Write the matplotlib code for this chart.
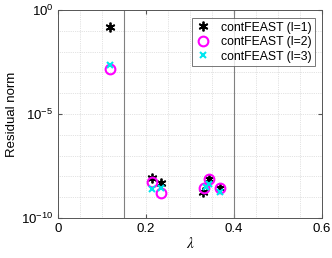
import matplotlib
matplotlib.use("Agg")
import matplotlib.pyplot as plt
import numpy as np
from matplotlib.ticker import FixedLocator, NullFormatter

plt.rcParams.update({
    "font.family": ["Liberation Sans", "DejaVu Sans"],
    "mathtext.fontset": "stix",
})

# eigenvalue estimates and residual norms (log10) for each l
lam_l1 = [0.118, 0.214, 0.234, 0.330, 0.342, 0.368]
res_l1 = [-0.83, -8.06, -8.30, -8.73, -8.13, -8.54]
lam_l2 = [0.118, 0.214, 0.234, 0.332, 0.342, 0.368]
res_l2 = [-2.84, -8.25, -8.78, -8.57, -8.13, -8.54]
lam_l3 = [0.118, 0.214, 0.234, 0.337, 0.343, 0.368]
res_l3 = [-2.62, -8.60, -8.56, -8.52, -8.38, -8.75]

# interval boundaries
bounds = [0.15, 0.4]

fig = plt.figure(figsize=(3.32, 2.58), dpi=100)
ax = fig.add_axes([0.175, 0.155, 0.795, 0.806])

for b in bounds:
    ax.axvline(b, color="#808080", lw=0.8, zorder=1)

ax.plot(lam_l1, 10.0 ** np.array(res_l1), ls="none", marker=(6, 2, 0), ms=7,
        mec="black", mew=1.3, color="black", label="contFEAST (l=1)", zorder=3)
ax.plot(lam_l2, 10.0 ** np.array(res_l2), ls="none", marker="o", ms=7,
        mfc="none", mec="#ff00ff", mew=1.5, label="contFEAST (l=2)", zorder=4)
ax.plot(lam_l3, 10.0 ** np.array(res_l3), ls="none", marker="x", ms=5,
        mec="#00e5ee", mew=1.5, label="contFEAST (l=3)", zorder=5)

ax.set_yscale("log")
ax.set_xlim(0, 0.6)
ax.set_ylim(1e-10, 1e0)
ax.set_xticks([0, 0.2, 0.4, 0.6])
ax.set_xticklabels(["0", "0.2", "0.4", "0.6"])
ax.xaxis.set_minor_locator(FixedLocator(np.arange(0, 0.61, 0.05)))
ax.yaxis.set_major_locator(FixedLocator([1e-10, 1e-5, 1e0]))
ax.yaxis.set_minor_locator(FixedLocator([10.0 ** k for k in range(-10, 1)]))
ax.yaxis.set_minor_formatter(NullFormatter())
ax.grid(True, which="both", ls=":", lw=0.5, color="#c8c8c8")
ax.set_axisbelow(True)

ax.tick_params(which="both", direction="in", top=True, right=True,
               color="#555555", labelsize=9.5, length=3)
ax.tick_params(which="minor", length=0)
for s in ax.spines.values():
    s.set_color("#555555")
    s.set_linewidth(0.7)

ax.set_xlabel(r"$\lambda$", fontsize=11, labelpad=1)
ax.set_ylabel("Residual norm", fontsize=9.5, labelpad=2)

leg = ax.legend(loc="upper right", bbox_to_anchor=(0.975, 0.962), fontsize=8.8,
                frameon=True, fancybox=False, handlelength=1.2,
                handletextpad=0.9, borderpad=0.3, labelspacing=0.2,
                borderaxespad=0.0)
leg.get_frame().set_edgecolor("#555555")
leg.get_frame().set_linewidth(0.7)

fig.savefig("out.png", dpi=100)
